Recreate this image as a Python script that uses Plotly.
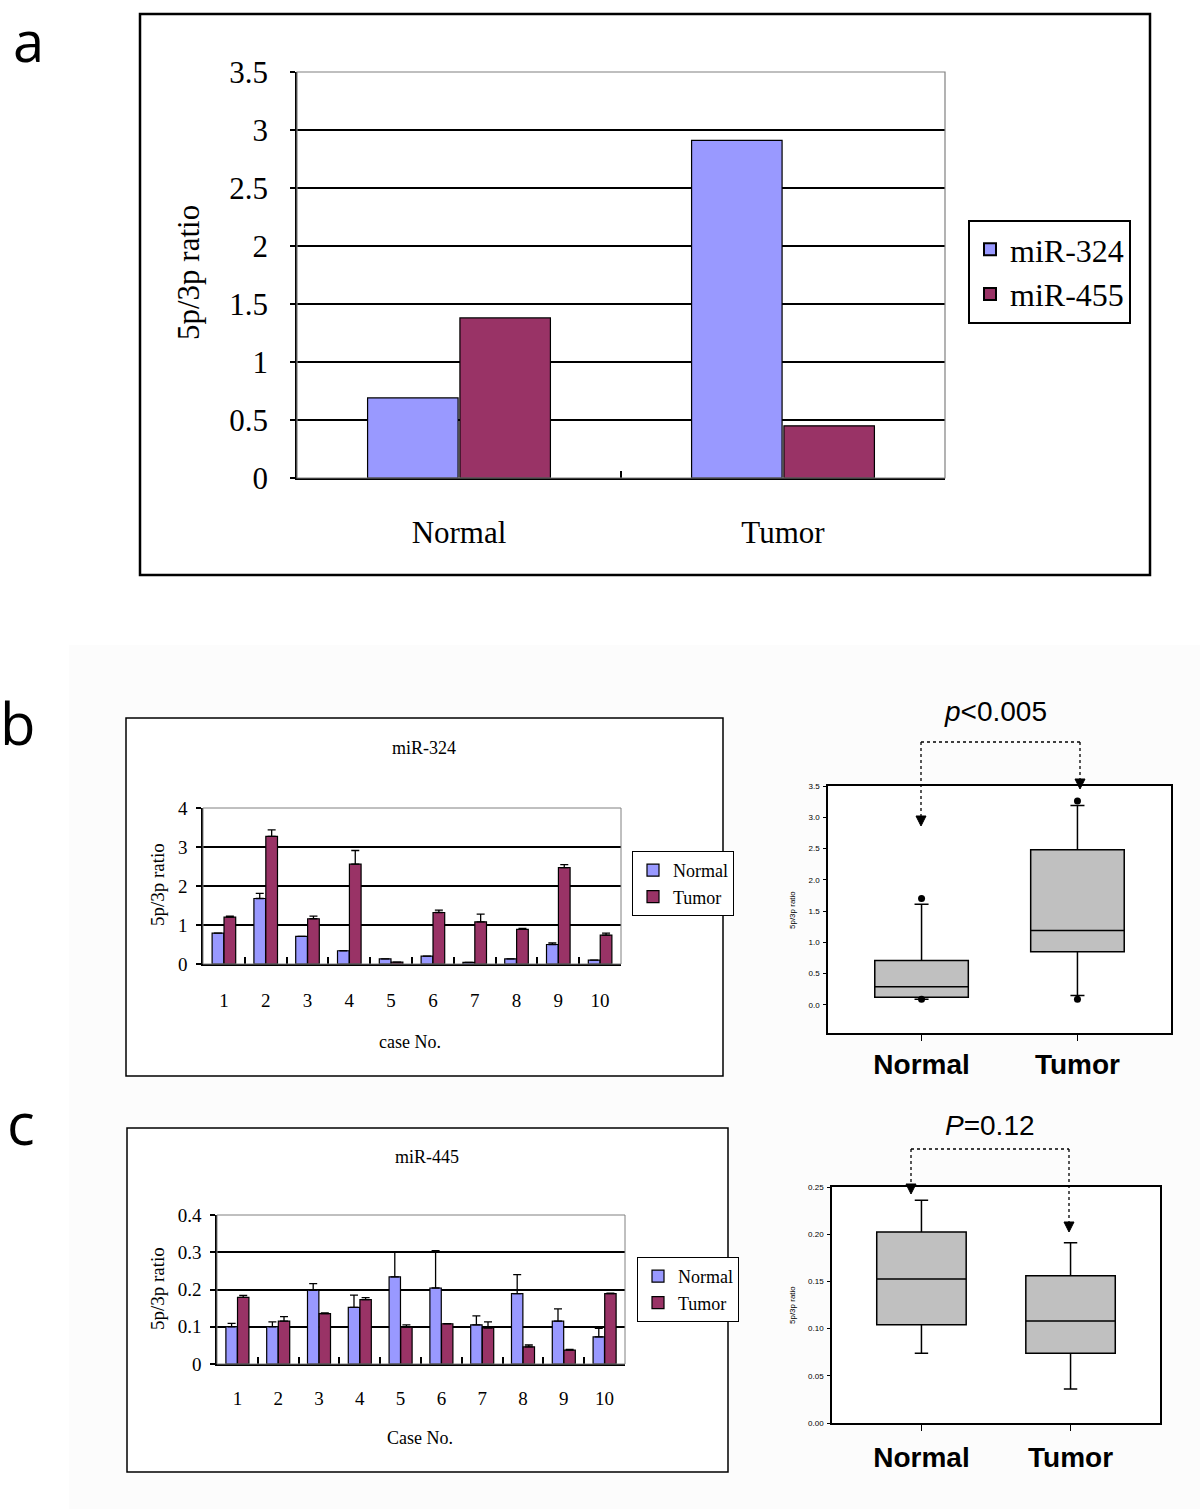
import plotly.graph_objects as go

W, H = 1200, 1509
def fx(p): return p / W
def fy(p): return 1 - p / H

# ---------------- data ----------------
a_groups = ["Normal", "Tumor"]
a_mir324 = [0.69, 2.91]
a_mir455 = [1.38, 0.45]

cases = [str(i) for i in range(1, 11)]
b_normal = [0.79, 1.68, 0.71, 0.34, 0.13, 0.20, 0.04, 0.13, 0.50, 0.10]
b_normal_err = [0, 0.13, 0, 0, 0, 0, 0, 0, 0.04, 0]
b_tumor = [1.20, 3.27, 1.16, 2.56, 0.05, 1.32, 1.08, 0.89, 2.47, 0.74]
b_tumor_err = [0.03, 0.17, 0.07, 0.35, 0, 0.06, 0.20, 0.02, 0.08, 0.05]

c_normal = [0.100, 0.100, 0.198, 0.152, 0.234, 0.204, 0.105, 0.189, 0.115, 0.073]
c_normal_err = [0.009, 0.013, 0.018, 0.033, 0.066, 0.100, 0.024, 0.051, 0.033, 0.023]
c_tumor = [0.179, 0.115, 0.135, 0.173, 0.099, 0.108, 0.097, 0.046, 0.037, 0.189]
c_tumor_err = [0.005, 0.012, 0.002, 0.005, 0.006, 0.0, 0.016, 0.005, 0.002, 0.001]

box_groups = ["Normal", "Tumor"]
b_q1 = [0.12, 0.85]
b_med = [0.29, 1.19]
b_q3 = [0.71, 2.48]
b_lo = [0.09, 0.15]
b_hi = [1.61, 3.19]
b_out_x = ["Normal", "Normal", "Tumor", "Tumor"]
b_out_y = [0.09, 1.70, 0.09, 3.26]

c_q1 = [0.104, 0.074]
c_med = [0.1525, 0.108]
c_q3 = [0.2023, 0.156]
c_lo = [0.074, 0.036]
c_hi = [0.236, 0.191]

BLUE = "#9999FF"
MAROON = "#993366"
GRAYBG = "#C0C0C0"
SERIF = "Liberation Serif"
SANS = "Liberation Sans"

fig = go.Figure()

def bar(x, y, color, name, xa, ya, legend, showlegend=True, err=None):
    kw = {}
    if err is not None:
        kw["error_y"] = dict(type="data", symmetric=False, array=err,
                             arrayminus=[0] * len(err), color="black",
                             thickness=1.3, width=4)
    fig.add_trace(go.Bar(x=x, y=y, name=name, marker=dict(color=color, line=dict(color="black", width=1.2)),
                         xaxis=xa, yaxis=ya, legend=legend, showlegend=showlegend, **kw))

# panel a
bar(a_groups, a_mir324, BLUE, "miR-324", "x", "y", "legend")
bar(a_groups, a_mir455, MAROON, "miR-455", "x", "y", "legend")
# panel b
bar(cases, b_normal, BLUE, "Normal", "x2", "y2", "legend2", err=b_normal_err)
bar(cases, b_tumor, MAROON, "Tumor", "x2", "y2", "legend2", err=b_tumor_err)
# panel c
bar(cases, c_normal, BLUE, "Normal", "x4", "y4", "legend3", err=c_normal_err)
bar(cases, c_tumor, MAROON, "Tumor", "x4", "y4", "legend3", err=c_tumor_err)

def box(q1, med, q3, lo, hi, xa, ya):
    fig.add_trace(go.Box(x=box_groups, q1=q1, median=med, q3=q3, lowerfence=lo, upperfence=hi,
                         fillcolor=GRAYBG, line=dict(color="black", width=1.5),
                         width=0.6, whiskerwidth=0.15, boxpoints=False,
                         xaxis=xa, yaxis=ya, showlegend=False))

box(b_q1, b_med, b_q3, b_lo, b_hi, "x3", "y3")
fig.add_trace(go.Scatter(x=b_out_x, y=b_out_y, mode="markers",
                         marker=dict(color="black", size=7), xaxis="x3", yaxis="y3", showlegend=False))
box(c_q1, c_med, c_q3, c_lo, c_hi, "x5", "y5")

# ---------------- axes ----------------
def excel_x(domain, yref, size, standoff):
    return dict(domain=domain, anchor=yref, type="category", tickson="boundaries",
                ticks="inside", ticklen=7, tickcolor="black", tickwidth=1.5,
                showline=True, linecolor="black", linewidth=2, automargin=False,
                tickfont=dict(family=SERIF, size=size, color="black"),
                ticklabelstandoff=standoff, showgrid=False, fixedrange=True)

def excel_y(domain, xref, rng, vals, texts, size, standoff):
    return dict(domain=domain, anchor=xref, range=rng, tickvals=vals, ticktext=texts,
                ticks="outside", ticklen=5, tickcolor="black", tickwidth=1.5,
                showline=True, linecolor="black", linewidth=1.5, automargin=False,
                showgrid=True, gridcolor="black", gridwidth=1.5, zeroline=False,
                tickfont=dict(family=SERIF, size=size, color="black"),
                ticklabelstandoff=standoff, fixedrange=True)

def box_x(domain, yref, standoff):
    return dict(domain=domain, anchor=yref, type="category", categoryarray=box_groups,
                range=[-0.6, 1.6], ticks="outside", ticklen=6, tickcolor="black",
                showline=True, mirror=True, linecolor="black", linewidth=1.5, automargin=False,
                tickfont=dict(family=SANS, size=28, color="black", weight="bold"),
                ticklabelstandoff=standoff, showgrid=False, fixedrange=True)

def box_y(domain, xref, rng, vals, fmt):
    return dict(domain=domain, anchor=xref, range=rng, tickvals=vals, tickformat=fmt,
                ticks="outside", ticklen=3, tickcolor="black",
                showline=True, mirror=True, linecolor="black", linewidth=1.5, automargin=False,
                showgrid=False, zeroline=False,
                tickfont=dict(family=SANS, size=8, color="black"),
                ticklabelstandoff=2, fixedrange=True)

fig.update_layout(
    xaxis=excel_x([fx(297), fx(945)], "y", 31, 26),
    yaxis=excel_y([fy(478), fy(72)], "x", [0, 3.5],
                  [0, 0.5, 1, 1.5, 2, 2.5, 3, 3.5], ["0", "0.5", "1", "1.5", "2", "2.5", "3", "3.5"], 31, 16),
    xaxis2=excel_x([fx(203), fx(621)], "y2", 19, 18),
    yaxis2=excel_y([fy(964), fy(808)], "x2", [0, 4], [0, 1, 2, 3, 4], ["0", "1", "2", "3", "4"], 19, 5),
    xaxis3=box_x([fx(828), fx(1171)], "y3", 0),
    yaxis3=box_y([fy(1033), fy(786)], "x3", [-0.45, 3.5], [0, 0.5, 1, 1.5, 2, 2.5, 3, 3.5], ".1f"),
    xaxis4=excel_x([fx(217), fx(625)], "y4", 19, 16),
    yaxis4=excel_y([fy(1364), fy(1215)], "x4", [0, 0.4], [0, 0.1, 0.2, 0.3, 0.4], ["0", "0.1", "0.2", "0.3", "0.4"], 19, 5),
    xaxis5=box_x([fx(832), fx(1160)], "y5", 3),
    yaxis5=box_y([fy(1423), fy(1187)], "x5", [0, 0.25], [0, 0.05, 0.10, 0.15, 0.20, 0.25], ".2f"),
)

fig.update_layout(
    width=W, height=H, margin=dict(l=0, r=0, t=0, b=0, autoexpand=False),
    paper_bgcolor="white", plot_bgcolor=GRAYBG,
    barmode="group", bargap=0.43, bargroupgap=0.02,
    legend=dict(x=fx(968), y=fy(220), xanchor="left", yanchor="top", bordercolor="black",
                borderwidth=2, bgcolor="white", font=dict(family=SERIF, size=32, color="black"),
                itemsizing="constant", tracegroupgap=0),
    legend2=dict(x=fx(632), y=fy(851), xanchor="left", yanchor="top", bordercolor="black",
                 borderwidth=1, bgcolor="white", font=dict(family=SERIF, size=18, color="black")),
    legend3=dict(x=fx(637), y=fy(1257), xanchor="left", yanchor="top", bordercolor="black",
                 borderwidth=1, bgcolor="white", font=dict(family=SERIF, size=18, color="black")),
)

shapes = []
def rect(x0, y0, x1, y1, color="black", width=1.5, fill=None, layer="below"):
    d = dict(type="rect", xref="paper", yref="paper", x0=fx(x0), x1=fx(x1), y0=fy(y1), y1=fy(y0),
             line=dict(color=color, width=width), layer=layer)
    if fill:
        d["fillcolor"] = fill
    shapes.append(d)

def line(x0, y0, x1, y1, dash="dot", width=1.3):
    shapes.append(dict(type="line", xref="paper", yref="paper", x0=fx(x0), x1=fx(x1), y0=fy(y0), y1=fy(y1),
                       line=dict(color="black", width=width, dash=dash)))

def tri(x, ytip, w=5, h=10):
    path = f"M {fx(x - w)} {fy(ytip - h)} L {fx(x + w)} {fy(ytip - h)} L {fx(x)} {fy(ytip)} Z"
    shapes.append(dict(type="path", xref="paper", yref="paper", path=path,
                       fillcolor="black", line=dict(color="black", width=1)))

# subtle background of b/c region
rect(69, 645, 1200, 1509, color="rgba(0,0,0,0)", width=0, fill="#FCFCFC")
# frames
rect(140, 14, 1150, 575, width=2.5, fill="white")
rect(126, 718, 723, 1076, width=1.5, fill="white")
rect(127, 1128, 728, 1472, width=1.5, fill="white")
rect(828, 786, 1171, 1033, width=0, color="rgba(0,0,0,0)", fill="white")
rect(832, 1187, 1160, 1423, width=0, color="rgba(0,0,0,0)", fill="white")
# plot-area borders (grey)
rect(297, 72, 945, 478, color="#808080", width=1.2, layer="above")
rect(203, 808, 621, 964, color="#808080", width=1, layer="above")
rect(217, 1215, 625, 1364, color="#808080", width=1, layer="above")

# brackets b
line(921, 742, 1080, 742)
line(921, 742, 921, 816)
line(1080, 742, 1080, 779)
tri(921, 826)
tri(1080, 789)
# brackets c
line(911, 1149, 1069, 1149)
line(911, 1149, 911, 1184)
line(1069, 1149, 1069, 1222)
tri(911, 1194)
tri(1069, 1232)

fig.update_layout(shapes=shapes)

ann = []
def text(x, y, s, size, family=SERIF, angle=0, yanchor="middle", **kw):
    ann.append(dict(x=fx(x), y=fy(y), xref="paper", yref="paper", text=s, showarrow=False,
                    textangle=angle, xanchor="center", yanchor=yanchor,
                    font=dict(family=family, size=size, color="black", **kw)))

text(28, 0, "a", 56, family="Open Sans", yanchor="top")
text(18, 722, "b", 58, family="Open Sans")
text(21, 1122, "c", 58, family="Open Sans")
text(189, 273, "5p/3p ratio", 31, angle=-90)
text(157, 885, "5p/3p ratio", 19, angle=-90)
text(157, 1289, "5p/3p ratio", 19, angle=-90)
text(424, 748, "miR-324", 18)
text(427, 1157, "miR-445", 18)
text(410, 1042, "case No.", 18)
text(420, 1438, "Case No.", 18)
text(792, 910, "5p/3p ratio", 8, family=SANS, angle=-90)
text(792, 1305, "5p/3p ratio", 8, family=SANS, angle=-90)
text(995, 711, "<i>p</i><0.005", 28, family=SANS)
text(990, 1125, "<i>P</i>=0.12", 28, family=SANS)
fig.update_layout(annotations=ann)

fig.write_html("out.html", config={"displayModeBar": False},
               post_script="document.body.style.margin='0';document.body.style.overflow='hidden';")
